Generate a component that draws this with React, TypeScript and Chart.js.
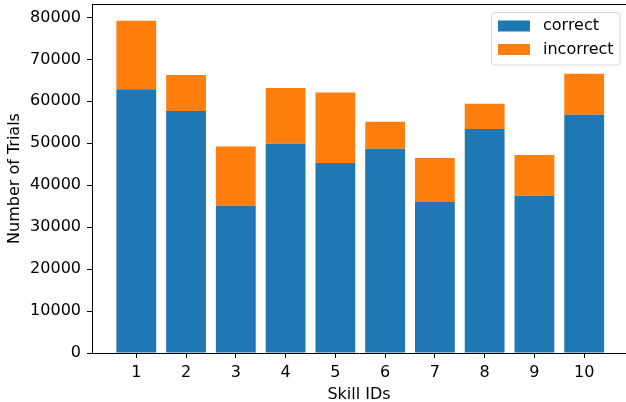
import React, { useEffect, useRef } from "react";
import { Chart, registerables } from "chart.js";

Chart.register(...registerables);

const skillIds = [1, 2, 3, 4, 5, 6, 7, 8, 9, 10];
const correct = [62900, 57700, 35100, 49900, 45300, 48700, 36000, 53400, 37500, 56800];
const incorrect = [16300, 8600, 14100, 13300, 16800, 6400, 10500, 6000, 9700, 9800];
const yTicks = [0, 10000, 20000, 30000, 40000, 50000, 60000, 70000, 80000];
const seriesLabels = ["correct", "incorrect"];
const seriesColors = ["#1f77b4", "#ff7f0e"];
const xTitle = "Skill IDs";
const yTitle = "Number of Trials";

const FONT = "'DejaVu Sans', sans-serif";
const FS = 16;

const topSpine = {
  id: "topSpine",
  afterDraw(chart: any) {
    const { ctx, chartArea } = chart;
    ctx.save();
    ctx.strokeStyle = "#000";
    ctx.lineWidth = 1;
    ctx.beginPath();
    ctx.moveTo(chartArea.left, Math.round(chartArea.top) + 0.5);
    ctx.lineTo(chartArea.right, Math.round(chartArea.top) + 0.5);
    ctx.stroke();
    ctx.restore();
  },
};

const mplLegend = {
  id: "mplLegend",
  afterDraw(chart: any) {
    const { ctx } = chart;
    const ds = chart.data.datasets;
    const x0 = 491.5, y0 = 12.5, w = 128.5, h = 52.5;
    ctx.save();
    ctx.beginPath();
    const r = 3;
    ctx.moveTo(x0 + r, y0);
    ctx.arcTo(x0 + w, y0, x0 + w, y0 + h, r);
    ctx.arcTo(x0 + w, y0 + h, x0, y0 + h, r);
    ctx.arcTo(x0, y0 + h, x0, y0, r);
    ctx.arcTo(x0, y0, x0 + w, y0, r);
    ctx.closePath();
    ctx.fillStyle = "rgba(255,255,255,0.8)";
    ctx.fill();
    ctx.strokeStyle = "rgba(204,204,204,0.8)";
    ctx.lineWidth = 1;
    ctx.stroke();
    ctx.font = `${FS}px ${FONT}`;
    ctx.textBaseline = "middle";
    ctx.textAlign = "left";
    ds.forEach((d: any, i: number) => {
      const cy = 26 + i * 23.5;
      ctx.fillStyle = d.backgroundColor;
      ctx.fillRect(498, cy - 5.5, 32, 11);
      ctx.fillStyle = "#000";
      ctx.fillText(d.label, 543, cy);
    });
    ctx.restore();
  },
};

export default function App() {
  const ref = useRef<HTMLCanvasElement>(null);
  useEffect(() => {
    document.body.style.margin = "0";
    const chart = new Chart(ref.current!, {
      type: "bar",
      data: {
        datasets: [
          {
            label: seriesLabels[0],
            data: skillIds.map((id, i) => ({ x: id, y: correct[i] })),
            backgroundColor: seriesColors[0],
          },
          {
            label: seriesLabels[1],
            data: skillIds.map((id, i) => ({ x: id, y: incorrect[i] })),
            backgroundColor: seriesColors[1],
          },
        ],
      },
      plugins: [topSpine, mplLegend],
      options: {
        responsive: false,
        animation: false,
        events: [],
        layout: { padding: { top: 4, right: 0, left: 0, bottom: 0 } },
        datasets: { bar: { categoryPercentage: 1, barPercentage: 0.8 } },
        plugins: { legend: { display: false }, tooltip: { enabled: false } },
        scales: {
          x: {
            type: "linear",
            stacked: true,
            min: 0.11,
            max: 10.84,
            offset: false,
            afterBuildTicks: (s: any) => {
              s.ticks = skillIds.map((v) => ({ value: v }));
            },
            afterFit: (s: any) => {
              s.height = 49;
              s.paddingLeft = 0;
              s.paddingRight = 0;
            },
            ticks: {
              color: "#000",
              font: { family: FONT, size: FS },
              padding: 5,
              maxRotation: 0,
              autoSkip: false,
              callback: (v: any) => String(v),
            },
            grid: { display: true, offset: false, drawOnChartArea: false, drawTicks: true, tickLength: 5, color: "#000" },
            border: { display: true, color: "#000", width: 1 },
            title: {
              display: true,
              text: xTitle,
              color: "#000",
              font: { family: FONT, size: FS },
              padding: { top: 0, bottom: -2 },
            },
          },
          y: {
            stacked: true,
            min: 0,
            max: 83200,
            afterBuildTicks: (s: any) => {
              s.ticks = yTicks.map((v) => ({ value: v }));
            },
            afterFit: (s: any) => {
              s.width = 92;
              s.paddingTop = 0;
              s.paddingBottom = 0;
            },
            ticks: {
              color: "#000",
              font: { family: FONT, size: FS, lineHeight: 0.01 },
              padding: 6,
              autoSkip: false,
              callback: (v: any) => String(v),
            },
            grid: { display: true, offset: false, drawOnChartArea: false, drawTicks: true, tickLength: 5, color: "#000" },
            border: { display: true, color: "#000", width: 1 },
            title: {
              display: true,
              text: yTitle,
              color: "#000",
              font: { family: FONT, size: FS },
              padding: { top: 5, bottom: 0 },
            },
          },
        },
      },
    });
    return () => chart.destroy();
  }, []);
  return (
    <div style={{ width: 626, height: 402, background: "#fff" }}>
      <canvas ref={ref} width={626} height={402} style={{ display: "block" }} />
    </div>
  );
}
